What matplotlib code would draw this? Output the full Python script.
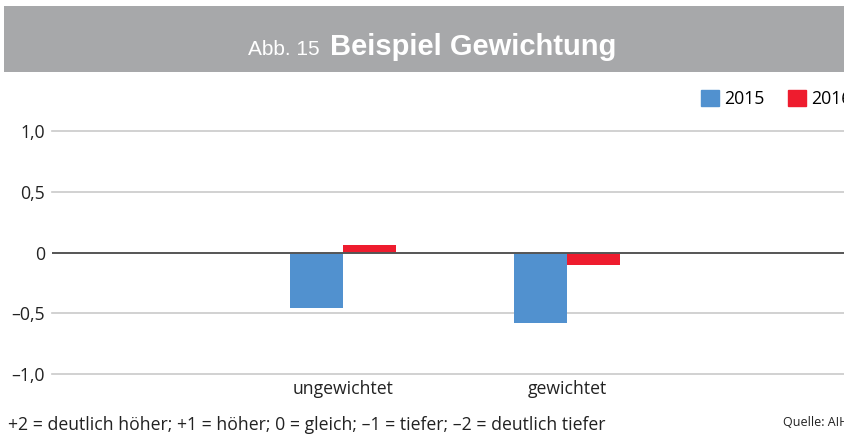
import numpy as np
import matplotlib.pyplot as plt
from matplotlib.patches import Rectangle, Patch

# values
categories = ["ungewichtet", "gewichtet"]
years = ["2015", "2016"]
values_2015 = [-0.46, -0.58]
values_2016 = [0.06, -0.10]
y_ticks = [-1.0, -0.5, 0.0, 0.5, 1.0]
y_tick_labels = ["–1,0", "–0,5", "0", "0,5", "1,0"]

blue = "#5191cf"
red = "#ee1c2e"
band_grey = "#a7a8aa"

plt.rcParams["font.family"] = ["Open Sans", "DejaVu Sans"]

fig = plt.figure(figsize=(8.44, 4.34), dpi=100)

# grey title band
fig.patches.append(Rectangle((4 / 844, 1 - 72 / 434), 1, 66 / 434,
                             transform=fig.transFigure, facecolor=band_grey,
                             edgecolor="none", zorder=0))
title_font = ["Liberation Sans Narrow", "Liberation Sans", "DejaVu Sans"]
fig.text(320 / 844, 1 - 55 / 434, "Abb. 15", color="white", fontsize=15,
         ha="right", va="baseline", family=title_font)
fig.text(330 / 844, 1 - 55 / 434, "Beispiel Gewichtung", color="white",
         fontsize=21, fontweight="bold", ha="left", va="baseline",
         family=title_font)

ax = fig.add_axes([52 / 844, 60 / 434, 792 / 844, 243 / 434])
x = np.arange(len(categories))
w = 53 / 224
ax.bar(x - w / 2, values_2015, w, color=blue, zorder=2)
ax.bar(x + w / 2, values_2016, w, color=red, zorder=2)

ax.set_xlim(-291 / 224, 1 + 277 / 224)
ax.set_ylim(-1.0, 1.0)
ax.set_yticks(y_ticks)
ax.set_yticklabels(y_tick_labels)
for yt in y_ticks:
    if yt == 0:
        ax.axhline(yt, color="#555555", lw=1.4, zorder=3)
    else:
        ax.axhline(yt, color="#c9c9c9", lw=1.2, zorder=1, clip_on=False)
ax.set_xticks(x)
ax.set_xticklabels(categories)
ax.tick_params(length=0, labelsize=12.7, colors="#222222")
ax.tick_params(axis="y", pad=5)
ax.tick_params(axis="x", pad=4)
for s in ax.spines.values():
    s.set_visible(False)

handles = [Patch(color=blue), Patch(color=red)]
fig.legend(handles, years, loc="upper left", bbox_to_anchor=(701 / 844, 1 - 90 / 434),
           ncol=2, frameon=False, fontsize=12.7, handlelength=1.0,
           handleheight=1.05, handletextpad=0.3, columnspacing=1.35,
           borderaxespad=0, borderpad=0)

fig.text(8 / 844, 1 - 425 / 434, "+2 = deutlich höher; +1 = höher; 0 = gleich; –1 = tiefer; –2 = deutlich tiefer",
         fontsize=12.7, ha="left", va="center", color="#222222")
fig.text(783 / 844, 1 - 423 / 434, "Quelle: AIHK", fontsize=9,
         ha="left", va="center", color="#222222")

fig.savefig("out.png", dpi=100)
